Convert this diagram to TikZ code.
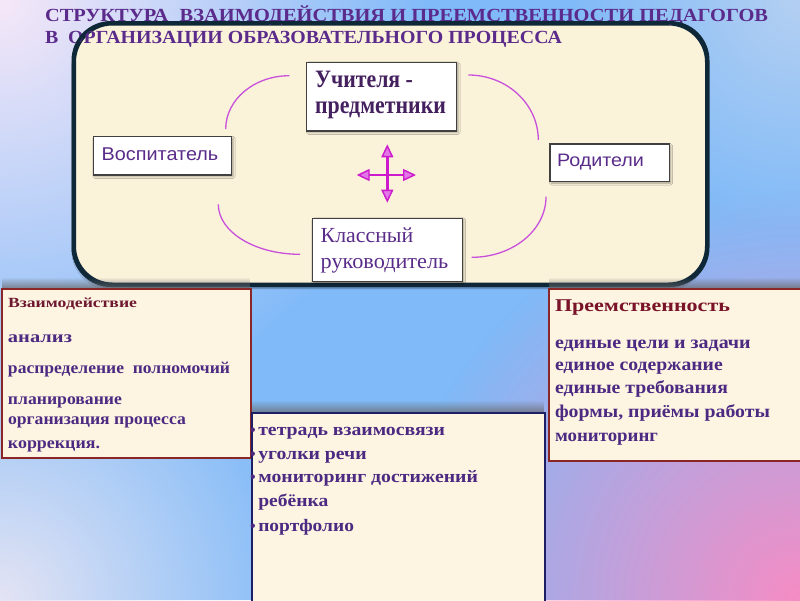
\documentclass[tikz,border=0pt]{standalone}
\usepackage{fontspec}
\usepackage{graphicx}
\setmainfont{Liberation Serif}
\newfontfamily\sansf{Liberation Sans}
\usetikzlibrary{arrows.meta,fadings,shadows.blur}

\definecolor{cTitle}{HTML}{5B2B8C}
\definecolor{cItem}{HTML}{4C2A82}
\definecolor{cHeadL}{HTML}{6E1830}
\definecolor{cHeadR}{HTML}{7A1228}
\definecolor{cBoxTxt}{HTML}{5A2C8A}
\definecolor{cUch}{HTML}{45205E}
\definecolor{cCream}{HTML}{FBF2DA}
\definecolor{cCream2}{HTML}{FDF5E2}
\definecolor{cFrame}{HTML}{0F2838}
\definecolor{cRed}{HTML}{8A2626}
\definecolor{cNavy}{HTML}{1E1E66}
\definecolor{cArc}{HTML}{C850DA}
\definecolor{cArrow}{HTML}{CC1ACC}
\definecolor{cArrowFill}{HTML}{E277E8}
\definecolor{bgBase}{HTML}{80BAF8}
\definecolor{bgTL}{HTML}{F6E8F8}
\definecolor{bgTR}{HTML}{B4D0F2}
\definecolor{bgBL}{HTML}{E4E4F4}
\definecolor{bgBR}{HTML}{F68CC4}

\newcommand{\fitw}[2]{\resizebox{#1}{\height}{#2}}
\newcommand{\blt}{\makebox[8pt][l]{\hspace{-0.3pt}\fontsize{16}{16}\selectfont •}}

\tikzfading[name=myglow, inner color=transparent!0, outer color=transparent!100]

\tikzset{
  txt/.style={inner sep=0pt, outer sep=0pt, anchor=base west},
  topbox/.style={draw=black!75, line width=1.2pt, fill=white, inner sep=0pt,
     blur shadow={shadow xshift=1.5pt, shadow yshift=-1.5pt, shadow opacity=35, shadow blur steps=4}},
  lowbox/.style={line width=2pt, fill=cCream2, inner sep=0pt},
  arcline/.style={draw=cArc, line width=1.3pt},
  fourarrow/.style={draw=cArrow, line width=2.6pt,
     arrows={Triangle[length=13pt,width=12pt,fill=cArrowFill,line width=1.4pt]-Triangle[length=13pt,width=12pt,fill=cArrowFill,line width=1.4pt]}},
  upshadow/.style={fill=black!60, path fading=north, fill opacity=0.7},
  glow/.style={path fading=myglow},
  itemfont/.style={font=\bfseries\fontsize{16.5}{18}\selectfont, text=cItem},
  ritemfont/.style={font=\bfseries\fontsize{18}{20}\selectfont, text=cItem},
  mitemfont/.style={font=\bfseries\fontsize{17.5}{20}\selectfont, text=cItem},
}

\begin{document}
\begin{tikzpicture}[x=1pt,y=-1pt]
\useasboundingbox (0,0) rectangle (800,600);

% background
\begin{scope}
\clip (0,0) rectangle (800,600);
\fill[bgBase] (0,0) rectangle (800,600);
\fill[bgTR, glow] (800,0) circle [radius=230pt];
\fill[bgTL, glow] (0,0) circle [radius=430pt];
\fill[bgBL, glow] (0,600) circle [radius=310pt];
\fill[bgBR, glow] (800,600) circle [radius=410pt];
\end{scope}

% main frame
\node[draw=cFrame, line width=3pt, fill=cCream, rounded corners=38pt,
      minimum width=632pt, minimum height=260pt, inner sep=0pt,
      blur shadow={shadow xshift=-1pt, shadow yshift=-4pt, shadow opacity=40, shadow blur steps=6}]
      (frame) at (390.5,154) {};

% title
\node[txt, font=\bfseries\fontsize{18.5}{18}\selectfont, text=cTitle] (title1) at (45,21.7)
  {\fitw{723pt}{СТРУКТУРА\hspace{0.55em}ВЗАИМОДЕЙСТВИЯ И ПРЕЕМСТВЕННОСТИ ПЕДАГОГОВ}};
\node[txt, font=\bfseries\fontsize{18.5}{18}\selectfont, text=cTitle] (title2) at (45,43.3)
  {\fitw{517pt}{В\hspace{0.5em}ОРГАНИЗАЦИИ ОБРАЗОВАТЕЛЬНОГО ПРОЦЕССА}};

% frame border on top of title
\draw[cFrame, line width=3pt, rounded corners=38pt] (frame.south west) rectangle (frame.north east);

% arcs
\coordinate (a1s) at (225.7,129);   \coordinate (a1e) at (289.3,75.7);
\coordinate (a2s) at (468.3,75);    \coordinate (a2e) at (538.3,140);
\coordinate (a3s) at (546,196.7);   \coordinate (a3e) at (471.7,257.3);
\coordinate (a4s) at (218.3,204.3); \coordinate (a4e) at (300,254.3);
\draw[arcline] (a1s) .. controls (225.7,99.6) and (254.2,75.7) .. (a1e);
\draw[arcline] (a2s) .. controls (507,75) and (538.3,104.1) .. (a2e);
\draw[arcline] (a3s) .. controls (546,230.2) and (512.7,257.3) .. (a3e);
\draw[arcline] (a4s) .. controls (218.3,231.9) and (254.9,254.3) .. (a4e);

% top boxes
\node[topbox, minimum width=150pt, minimum height=68.7pt] (uch) at (381.7,96.65) {};
\node[topbox, minimum width=138.4pt, minimum height=38.3pt] (vos) at (162.5,155.85) {};
\node[topbox, minimum width=119.3pt, minimum height=37.7pt] (rod) at (609.65,162.85) {};
\node[topbox, minimum width=150pt, minimum height=63.4pt] (kls) at (387.3,250) {};

\node[txt, font=\bfseries\fontsize{25}{25}\selectfont, text=cUch] (uch1) at (315,87.7) {\fitw{98pt}{Учителя -}};
\node[txt, font=\bfseries\fontsize{25}{25}\selectfont, text=cUch] (uch2) at (315,113.3) {\fitw{131pt}{предметники}};
\node[txt, font=\sansf\fontsize{18.5}{20}\selectfont, text=cBoxTxt] (vostxt) at (101.7,160) {\fitw{116.6pt}{Воспитатель}};
\node[txt, font=\sansf\fontsize{18}{20}\selectfont, text=cBoxTxt] (rodtxt) at (557,166.7) {\fitw{87pt}{Родители}};
\node[txt, font=\fontsize{21.5}{24}\selectfont, text=cBoxTxt] (kls1) at (320.7,242.7) {\fitw{92.6pt}{Классный}};
\node[txt, font=\fontsize{21.5}{24}\selectfont, text=cBoxTxt] (kls2) at (320.7,268.3) {\fitw{127.6pt}{руководитель}};

% four-way arrow
\coordinate (ac) at (387.3,175);
\coordinate (atop) at (387.3,144.3);
\coordinate (abot) at (387.3,202.7);
\coordinate (aleft) at (356.7,175);
\coordinate (aright) at (416,175);
\draw[fourarrow] (atop) -- (abot);
\draw[fourarrow] (aleft) -- (aright);

% shadows above the lower boxes
\fill[upshadow] (2,277) rectangle (250,288);
\fill[upshadow] (549,277) rectangle (800,288);
\fill[upshadow] (251,400) rectangle (544,412.3);

% lower boxes
\node[lowbox, draw=cRed, anchor=north west, minimum width=249pt, minimum height=169pt] (vz) at (1,288) {};
\node[lowbox, draw=cRed, anchor=north west, minimum width=254pt, minimum height=172pt] (pr) at (548,288) {};
\node[lowbox, draw=cNavy, anchor=north west, minimum width=293.5pt, minimum height=192pt] (mid) at (250.5,412.3) {};

% left box text
\node[txt, font=\bfseries\fontsize{14}{16}\selectfont, text=cHeadL] (vz0) at (8,307.7) {\fitw{129pt}{Взаимодействие}};
\node[txt, itemfont] (vz1) at (8,342.3) {\fitw{64pt}{анализ}};
\node[txt, itemfont] (vz2) at (8,373.3) {\fitw{222pt}{распределение\ \ полномочий}};
\node[txt, itemfont] (vz3) at (8,404.3) {\fitw{114pt}{планирование}};
\node[txt, itemfont] (vz4) at (8,424.3) {\fitw{178pt}{организация процесса}};
\node[txt, itemfont] (vz5) at (8,448.3) {\fitw{92pt}{коррекция.}};

% right box text
\node[txt, font=\bfseries\fontsize{18}{20}\selectfont, text=cHeadR] (pr0) at (555,311.7) {\fitw{175pt}{Преемственность}};
\node[txt, ritemfont] (pr1) at (555,348.3) {\fitw{195.7pt}{единые цели и задачи}};
\node[txt, ritemfont] (pr2) at (555,370) {\fitw{167.7pt}{единое содержание}};
\node[txt, ritemfont] (pr3) at (555,393.3) {\fitw{173pt}{единые требования}};
\node[txt, ritemfont] (pr4) at (555,417.7) {\fitw{215pt}{формы, приёмы работы}};
\node[txt, ritemfont] (pr5) at (555,441.7) {\fitw{103pt}{мониторинг}};

% middle box text
\node[txt, mitemfont] (m1) at (250.3,435.7) {\blt\fitw{186.7pt}{тетрадь взаимосвязи}};
\node[txt, mitemfont] (m2) at (250.3,459) {\blt\fitw{108.4pt}{уголки речи}};
\node[txt, mitemfont] (m3) at (250.3,482.3) {\blt\fitw{219.7pt}{мониторинг достижений}};
\node[txt, mitemfont] (m4) at (258.3,506.7) {\fitw{70pt}{ребёнка}};
\node[txt, mitemfont] (m5) at (250.3,531) {\blt\fitw{95.7pt}{портфолио}};
\end{tikzpicture}
\end{document}
